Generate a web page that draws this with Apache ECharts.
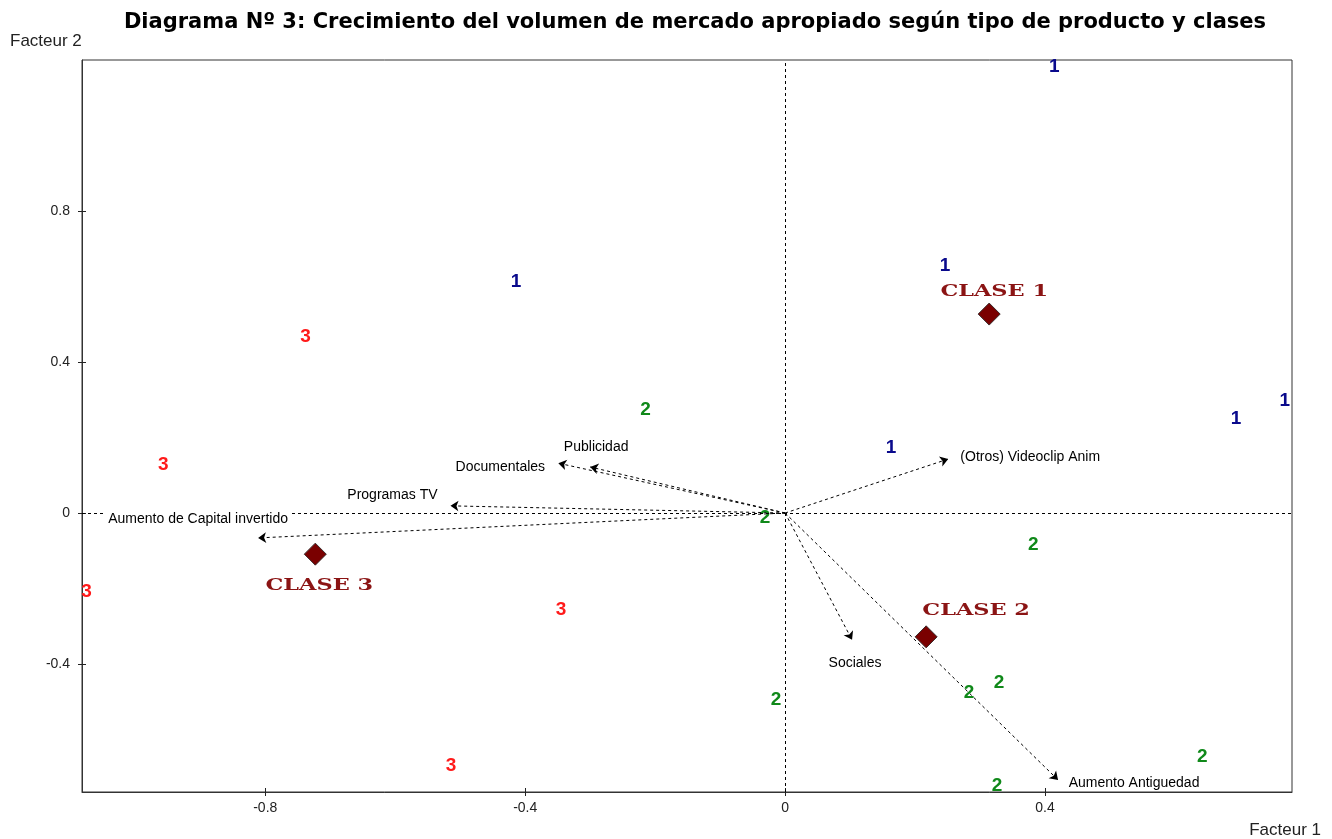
<!DOCTYPE html>
<html>
<head>
<meta charset="utf-8">
<title>Diagrama Nº 3</title>
<script src="https://cdn.jsdelivr.net/npm/echarts@6/dist/echarts.min.js"></script>
<style>
  html, body { margin: 0; padding: 0; background: #fff; }
  #chart { width: 1332px; height: 839px; }
</style>
</head>
<body>
<div id="chart"></div>
<script>
// Individual observations on the first factorial plane, grouped by class
const class1Points = [[0.414, 1.183], [0.246, 0.654], [-0.414, 0.612], [0.163, 0.172], [0.694, 0.249], [0.769, 0.297]];
const class2Points = [[-0.215, 0.273], [-0.031, -0.013], [0.382, -0.085], [-0.014, -0.495], [0.329, -0.450], [0.283, -0.477], [0.642, -0.646], [0.326, -0.723]];
const class3Points = [[-0.738, 0.466], [-0.957, 0.127], [-1.075, -0.209], [-0.345, -0.257], [-0.514, -0.670]];

// Class centroids
const classNames = ['CLASE 1', 'CLASE 2', 'CLASE 3'];
const classCentroids = [[0.314, 0.527], [0.217, -0.328], [-0.723, -0.109]];

// Active variables (arrows drawn from the origin)
const variableNames = ['Publicidad', 'Documentales', 'Programas TV', 'Aumento de Capital invertido', '(Otros) Videoclip Anim', 'Sociales', 'Aumento Antiguedad'];
const variableEnds = [[-0.300, 0.122], [-0.349, 0.132], [-0.515, 0.019], [-0.811, -0.066], [0.251, 0.143], [0.103, -0.336], [0.420, -0.707]];

// Axis range and tick labels
const xRange = [-1.082, 0.78];
const yRange = [-0.739, 1.2];
const xTicks = [-0.8, -0.4, 0, 0.4];
const yTicks = [-0.4, 0, 0.4, 0.8];

const chart = echarts.init(document.getElementById('chart'), null, { renderer: 'canvas' });

// label placement for the variable names (pixels from the arrow tip)
const varLabelOffsets = [[6, -20], [-58, 4], [-58, -11], [-60, -19], [82, -2], [3, 23], [76, 3]];
// label placement for the class names (pixels from the centroid)
const classLabelOffsets = [[5, -22], [50, -26], [4, 32]];

const tickFmt = v => (Math.abs(v) < 1e-9 ? '0' : String(v));

// each axis is drawn twice so the tick marks cross the axis line
function axisPair(dim, range, ticks) {
  const pos = dim === 'x' ? 'bottom' : 'left';
  const base = {
    type: 'value', min: range[0], max: range[1], position: pos, splitLine: { show: false }
  };
  const main = Object.assign({}, base, {
    axisLine: { show: true, onZero: false, lineStyle: { color: '#333', width: 1 } },
    axisTick: { show: true, inside: false, length: 4, customValues: ticks, lineStyle: { color: '#222' } },
    axisLabel: {
      show: true, customValues: ticks, formatter: tickFmt,
      color: '#222', fontFamily: 'Liberation Sans', fontSize: 14,
      margin: dim === 'x' ? 9 : 12
    }
  });
  const inner = Object.assign({}, base, {
    axisLine: { show: false, onZero: false },
    axisTick: { show: true, inside: true, length: 4, customValues: ticks, lineStyle: { color: '#222' } },
    axisLabel: { show: false }
  });
  return [main, inner];
}

function digitSeries(points, digit, color) {
  return {
    type: 'scatter', xAxisIndex: 0, yAxisIndex: 0,
    data: points, symbolSize: 0, silent: true, z: 4,
    itemStyle: { opacity: 1 },
    label: {
      show: true, position: 'inside', formatter: digit, opacity: 1,
      color: color, fontFamily: 'Liberation Sans', fontWeight: 'bold', fontSize: 19
    }
  };
}

const option = {
  animation: false,
  backgroundColor: '#ffffff',
  grid: { left: 82, right: 40, top: 60, bottom: 47, show: true, borderColor: '#333', borderWidth: 1, backgroundColor: 'transparent' },
  xAxis: axisPair('x', xRange, xTicks),
  yAxis: axisPair('y', yRange, yTicks),
  graphic: [
    {
      type: 'text', x: 695, y: 23,
      style: {
        text: 'Diagrama Nº 3: Crecimiento del volumen de mercado apropiado según tipo de producto y clases',
        font: 'bold 21px "DejaVu Sans"', fill: '#000', align: 'center', verticalAlign: 'middle'
      }
    },
    {
      type: 'text', x: 10, y: 41,
      style: { text: 'Facteur 2', font: '17px "Liberation Sans"', fill: '#222', align: 'left', verticalAlign: 'middle' }
    },
    {
      type: 'text', x: 1321, y: 830,
      style: { text: 'Facteur 1', font: '17px "Liberation Sans"', fill: '#222', align: 'right', verticalAlign: 'middle' }
    }
  ],
  series: [
    // dashed reference lines through the origin
    {
      type: 'line', data: [], silent: true,
      markLine: {
        silent: true, symbol: 'none', label: { show: false },
        lineStyle: { color: '#000', type: [3, 3], width: 1, opacity: 1 },
        data: [{ xAxis: 0 }, { yAxis: 0 }]
      }
    },
    // variable arrows
    {
      type: 'lines', coordinateSystem: 'cartesian2d', silent: true, z: 3,
      symbol: ['none', 'arrow'], symbolSize: [0, 8],
      lineStyle: { color: '#000', type: [3, 3], width: 1, opacity: 1 },
      data: variableEnds.map(e => ({ coords: [[0, 0], e] }))
    },
    // variable names
    {
      type: 'scatter', silent: true, z: 5, symbolSize: 0,
      itemStyle: { opacity: 1 },
      data: variableEnds.map((e, i) => ({
        value: e, name: variableNames[i],
        label: { offset: varLabelOffsets[i] }
      })),
      label: {
        show: true, position: 'inside', formatter: p => p.name, opacity: 1,
        color: '#000', fontFamily: 'Liberation Sans', fontSize: 14,
        backgroundColor: '#fff', padding: [1, 3]
      }
    },
    digitSeries(class1Points, '1', '#0a0a8c'),
    digitSeries(class2Points, '2', '#10891a'),
    digitSeries(class3Points, '3', '#ff1a1a'),
    // class centroids with their names
    {
      type: 'custom', silent: true, z: 6,
      data: classCentroids.map((c, i) => ({ value: c, name: classNames[i] })),
      renderItem: function (params, api) {
        const p = api.coord([api.value(0), api.value(1)]);
        const i = params.dataIndex;
        const h = 11;
        return {
          type: 'group',
          children: [
            {
              type: 'polygon',
              shape: { points: [[p[0], p[1] - h], [p[0] + h, p[1]], [p[0], p[1] + h], [p[0] - h, p[1]]] },
              style: { fill: '#7a0000', stroke: '#3a2a2a', lineWidth: 1 }
            },
            {
              type: 'text',
              x: p[0] + classLabelOffsets[i][0], y: p[1] + classLabelOffsets[i][1],
              scaleX: 1.4,
              style: {
                x: 0, y: 0, text: classNames[i],
                font: 'bold 16px "DejaVu Serif"', fill: '#8b1414',
                align: 'center', verticalAlign: 'middle'
              }
            }
          ]
        };
      }
    }
  ]
};

chart.setOption(option);
</script>
</body>
</html>
